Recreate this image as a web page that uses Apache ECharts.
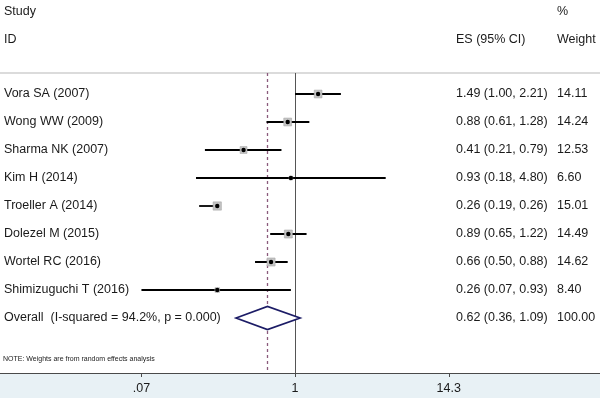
<!DOCTYPE html>
<html>
<head>
<meta charset="utf-8">
<script src="https://cdn.jsdelivr.net/npm/echarts@6/dist/echarts.min.js"></script>
<style>
  html, body { margin: 0; padding: 0; background: #fff; }
  #main { width: 600px; height: 398px; }
</style>
</head>
<body>
<div id="main"></div>
<script>
// study data
var studies = ['Vora SA (2007)', 'Wong WW (2009)', 'Sharma NK (2007)', 'Kim H (2014)',
  'Troeller A (2014)', 'Dolezel M (2015)', 'Wortel RC (2016)', 'Shimizuguchi T (2016)'];
var es = [1.49, 0.88, 0.41, 0.93, 0.26, 0.89, 0.66, 0.26];
var lower = [1.00, 0.61, 0.21, 0.18, 0.19, 0.65, 0.50, 0.07];
var upper = [2.21, 1.28, 0.79, 4.80, 0.26, 1.22, 0.88, 0.93];
var weights = [14.11, 14.24, 12.53, 6.60, 15.01, 14.49, 14.62, 8.40];

// pooled estimate
var overallEs = 0.62;
var overallLower = 0.36;
var overallUpper = 1.09;
var overallWeight = 100.00;
var iSquared = 94.2;
var pValue = '0.000';

// x axis ticks
var tickValues = [0.07, 1, 14.3];
var tickLabels = ['.07', '1', '14.3'];

var FONT = '12.5px "Liberation Sans", Arial, sans-serif';
var TXT = '#1a1a1a';
var COL_ES = 456, COL_W = 557, COL_STUDY = 4;

var chart = echarts.init(document.getElementById('main'));

function ciText(e, l, u) {
  return e.toFixed(2) + ' (' + l.toFixed(2) + ', ' + u.toFixed(2) + ')';
}

function renderStudy(params, api) {
  var i = api.value(0);
  var pEs = api.coord([api.value(1), i]);
  var pLo = api.coord([api.value(2), i]);
  var pHi = api.coord([api.value(3), i]);
  var side = api.value(4) * 0.55;
  return {
    type: 'group',
    children: [
      { type: 'line', shape: { x1: pLo[0], y1: pLo[1], x2: pHi[0], y2: pHi[1] },
        style: { stroke: '#000', lineWidth: 1.8 } },
      { type: 'rect', shape: { x: pEs[0] - side / 2, y: pEs[1] - side / 2, width: side, height: side },
        style: { fill: '#c4c4c4', stroke: '#a8a8a8', lineWidth: 0.6 } },
      { type: 'circle', shape: { cx: pEs[0], cy: pEs[1], r: 2.2 }, style: { fill: '#000' } },
      { type: 'text', x: COL_STUDY, y: pEs[1],
        style: { text: studies[i], font: FONT, fill: TXT, verticalAlign: 'middle', align: 'left' } },
      { type: 'text', x: COL_ES, y: pEs[1],
        style: { text: ciText(es[i], lower[i], upper[i]), font: FONT, fill: TXT, verticalAlign: 'middle', align: 'left' } },
      { type: 'text', x: COL_W, y: pEs[1],
        style: { text: weights[i].toFixed(2), font: FONT, fill: TXT, verticalAlign: 'middle', align: 'left' } }
    ]
  };
}

function renderOverall(params, api) {
  var row = api.value(0);
  var pEs = api.coord([api.value(1), row]);
  var pLo = api.coord([api.value(2), row]);
  var pHi = api.coord([api.value(3), row]);
  var h = 11.5;
  return {
    type: 'group',
    children: [
      { type: 'polygon',
        shape: { points: [[pLo[0], pEs[1]], [pEs[0], pEs[1] - h], [pHi[0], pEs[1]], [pEs[0], pEs[1] + h]] },
        style: { fill: '#fff', stroke: '#1c1c66', lineWidth: 1.7 } },
      { type: 'text', x: COL_STUDY, y: pEs[1],
        style: { text: 'Overall  (I-squared = ' + iSquared.toFixed(1) + '%, p = ' + pValue + ')',
          font: FONT, fill: TXT, verticalAlign: 'middle', align: 'left' } },
      { type: 'text', x: COL_ES, y: pEs[1],
        style: { text: ciText(overallEs, overallLower, overallUpper), font: FONT, fill: TXT, verticalAlign: 'middle', align: 'left' } },
      { type: 'text', x: COL_W, y: pEs[1],
        style: { text: overallWeight.toFixed(2), font: FONT, fill: TXT, verticalAlign: 'middle', align: 'left' } }
    ]
  };
}

var studyData = studies.map(function (s, i) { return [i, es[i], lower[i], upper[i], weights[i]]; });

var option = {
  backgroundColor: '#fff',
  animation: false,
  grid: { left: 0, right: 0, top: 73, bottom: 25 },
  xAxis: {
    type: 'log',
    min: 0.00605,
    max: 196,
    axisLine: { show: true, onZero: false, lineStyle: { color: '#4a4a4a', width: 1 } },
    axisTick: { show: true, customValues: tickValues, length: 4, lineStyle: { color: '#4a4a4a' } },
    axisLabel: {
      show: true,
      customValues: tickValues,
      margin: 9,
      color: TXT,
      fontSize: 12.5,
      fontFamily: '"Liberation Sans", Arial, sans-serif',
      formatter: function (v) {
        var best = 0;
        for (var k = 1; k < tickValues.length; k++) {
          if (Math.abs(Math.log(tickValues[k] / v)) < Math.abs(Math.log(tickValues[best] / v))) best = k;
        }
        return tickLabels[best];
      }
    },
    splitLine: { show: false },
    minorTick: { show: false }
  },
  yAxis: {
    type: 'value',
    min: -0.75,
    max: 9.964,
    inverse: true,
    show: false,
    splitLine: { show: false }
  },
  graphic: [
    { type: 'rect', z: -10, shape: { x: 0, y: 373, width: 600, height: 25 }, style: { fill: '#e8f1f5' } },
    { type: 'line', shape: { x1: 0, y1: 73, x2: 600, y2: 73 }, style: { stroke: '#cfcfcf', lineWidth: 1.5 } },
    { type: 'text', x: COL_STUDY, y: 12, style: { text: 'Study', font: FONT, fill: TXT, verticalAlign: 'middle' } },
    { type: 'text', x: COL_STUDY, y: 40, style: { text: 'ID', font: FONT, fill: TXT, verticalAlign: 'middle' } },
    { type: 'text', x: COL_W, y: 12, style: { text: '%', font: FONT, fill: TXT, verticalAlign: 'middle' } },
    { type: 'text', x: COL_ES, y: 40, style: { text: 'ES (95% CI)', font: FONT, fill: TXT, verticalAlign: 'middle' } },
    { type: 'text', x: COL_W, y: 40, style: { text: 'Weight', font: FONT, fill: TXT, verticalAlign: 'middle' } },
    { type: 'text', x: 3, y: 359, style: { text: 'NOTE: Weights are from random effects analysis',
      font: '7px "Liberation Sans", Arial, sans-serif', fill: TXT, verticalAlign: 'middle' } }
  ],
  series: [
    {
      type: 'custom',
      name: 'studies',
      renderItem: renderStudy,
      encode: { x: [1, 2, 3], y: 0 },
      data: studyData,
      z: 3,
      markLine: {
        silent: true,
        symbol: ['none', 'none'],
        label: { show: false },
        z: 2,
        data: [
          { xAxis: 1, lineStyle: { color: '#555', width: 1, type: 'solid' } },
          { xAxis: overallEs, lineStyle: { color: '#8a5a7c', width: 1.3, type: [3, 3] } }
        ]
      }
    },
    {
      type: 'custom',
      name: 'overall',
      renderItem: renderOverall,
      encode: { x: [1, 2, 3], y: 0 },
      data: [[studies.length, overallEs, overallLower, overallUpper, overallWeight]],
      z: 4
    }
  ]
};

chart.setOption(option);
</script>
</body>
</html>
